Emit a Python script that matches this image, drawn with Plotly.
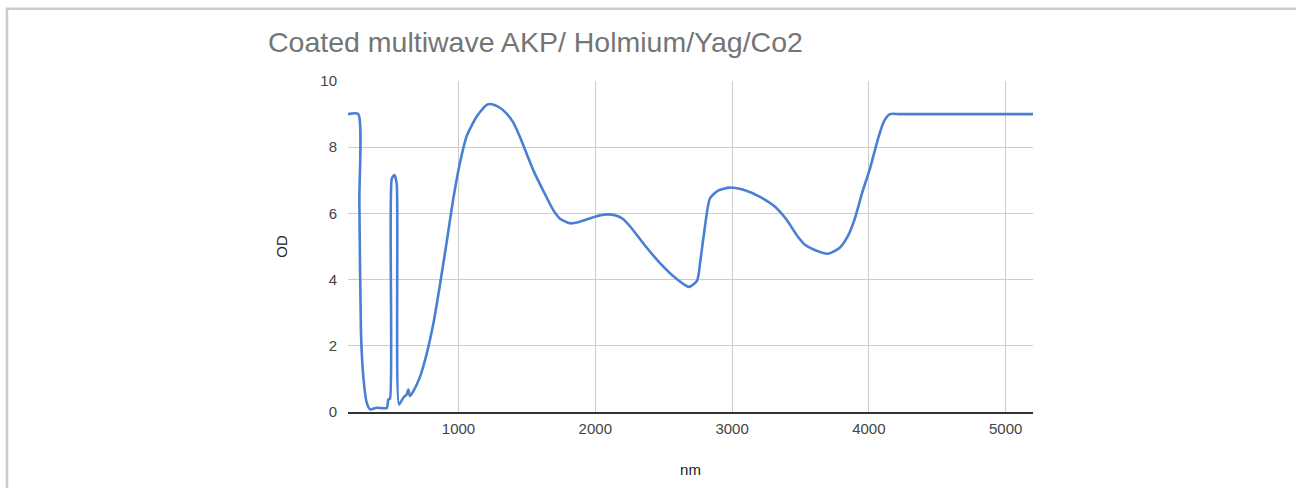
import plotly.graph_objects as go

title_text = "Coated multiwave AKP/ Holmium/Yag/Co2"
x_label = "nm"
y_label = "OD"

wavelength_nm = [192, 267, 275, 287, 304, 329, 353, 402, 475, 487, 499, 512, 531, 548, 565,
                 596, 621, 633, 645, 670, 719, 768, 816, 865, 914, 962, 1011, 1060, 1133,
                 1206, 1243, 1300, 1350, 1400, 1450, 1500, 1547, 1620, 1693, 1742, 1815,
                 1888, 1998, 2083, 2156, 2200, 2252, 2363, 2473, 2583, 2685, 2744, 2766, 2795,
                 2838, 2897, 2985, 3094, 3204, 3314, 3400, 3480, 3533, 3600, 3700, 3787, 3846,
                 3898, 3949, 4007, 4066, 4110, 4154, 4220, 4300, 5200]
od_values = [9.0, 9.0, 6.35, 2.37, 1.07, 0.28, 0.08, 0.13, 0.12, 0.38, 0.40, 7.05, 7.16, 6.9,
             0.23, 0.43, 0.53, 0.68, 0.48, 0.63, 1.07, 1.77, 2.67, 3.86, 5.15, 6.45, 7.54,
             8.34, 8.93, 9.28, 9.30, 9.2, 9.02, 8.75, 8.3, 7.78, 7.3, 6.68, 6.1, 5.84, 5.70,
             5.75, 5.90, 5.97, 5.93, 5.84, 5.62, 5.03, 4.5, 4.06, 3.78, 3.97, 4.5, 5.4, 6.45,
             6.69, 6.78, 6.7, 6.5, 6.2, 5.8, 5.3, 5.05, 4.9, 4.78, 4.96, 5.31, 5.85, 6.6,
             7.34, 8.24, 8.78, 9.0, 9.0, 9.0, 9.0]

x_ticks = [1000, 2000, 3000, 4000, 5000]
y_ticks = [0, 2, 4, 6, 8, 10]

FONT = "Liberation Sans, Arial, sans-serif"
W, H = 1296, 488

fig = go.Figure()
fig.add_trace(go.Scatter(
    x=wavelength_nm, y=od_values, mode="lines",
    line=dict(color="#4a7fd3", width=2.6, shape="spline", smoothing=0.6),
    showlegend=False, hoverinfo="x+y",
))

pl, pt, pw, ph = 348, 81, 685, 335

fig.update_layout(
    width=W, height=H,
    margin=dict(l=pl, r=W - pl - pw, t=pt, b=H - pt - ph),
    paper_bgcolor="white", plot_bgcolor="white",
    font=dict(family=FONT, color="#444444"),
    title=dict(text=title_text, x=268/W, xanchor="left", y=1-42/H, yanchor="middle",
               font=dict(family=FONT, size=28.5, color="#757575")),
    xaxis=dict(range=[192, 5200], tickvals=x_ticks, ticktext=[str(v) for v in x_ticks],
               showgrid=True, gridcolor="#cccccc", gridwidth=1,
               showline=True, linecolor="#333333", linewidth=1.5,
               zeroline=False, ticks="", tickfont=dict(size=15, color="#444444"),
               ticklabelstandoff=2,
               title=dict(text=x_label, font=dict(size=15, color="#222222"), standoff=29)),
    yaxis=dict(range=[0, 10], tickvals=y_ticks, ticktext=[str(v) for v in y_ticks],
               showgrid=True, gridcolor="#cccccc", gridwidth=1,
               showline=False, zeroline=False, ticks="",
               tickfont=dict(size=15, color="#444444"),
               ticklabelstandoff=10,
               title=dict(text=y_label, font=dict(size=15, color="#222222"), standoff=29)),
    shapes=[dict(type="rect", xref="paper", yref="paper",
                 x0=(7 - pl)/pw, x1=(1310 - pl)/pw, y0=(ph + pt - 500)/ph, y1=(ph + pt - 8)/ph,
                 line=dict(color="#cccccc", width=2.5), fillcolor="rgba(0,0,0,0)", layer="below")],
)

fig.write_html("out.html", config={"displayModeBar": False},
               post_script="document.body.style.margin='0';document.body.style.overflow='hidden';")
